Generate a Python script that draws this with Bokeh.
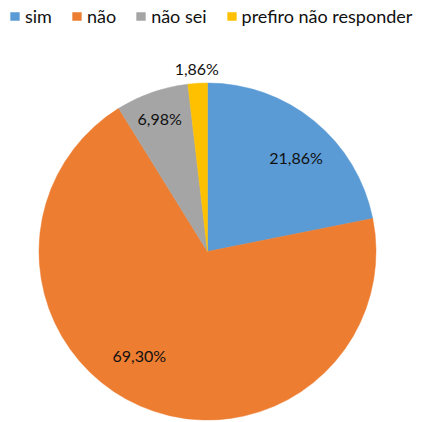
import math
from bokeh.plotting import figure
from bokeh.models import ColumnDataSource, Range1d, Legend, LegendItem
from bokeh.core.properties import value
from bokeh.embed import file_html
from bokeh.resources import INLINE

categories = ["sim", "não", "não sei", "prefiro não responder"]
shares = [21.86, 69.30, 6.98, 1.86]
colors = ["#5B9BD5", "#ED7D31", "#A5A5A5", "#FFC000"]

W, H = 421, 422
CX, CY, R = 207.0, 171.0, 168.5
FONT = "Lato"

total = sum(shares)
starts, ends, mids = [], [], []
acc = 0.0
for s in shares:
    a0 = math.pi / 2 - 2 * math.pi * acc / total
    acc += s
    a1 = math.pi / 2 - 2 * math.pi * acc / total
    starts.append(a0)
    ends.append(a1)
    mids.append((a0 + a1) / 2)

src = ColumnDataSource(dict(cat=categories, start=starts, end=ends, color=colors))

p = figure(width=W, height=H, output_backend="svg", toolbar_location=None,
           x_range=Range1d(0, W), y_range=Range1d(0, H), min_border=0)
p.axis.visible = False
p.grid.visible = False
p.outline_line_color = None
p.background_fill_color = "white"

r = p.wedge(x=CX, y=CY, radius=R, start_angle="start", end_angle="end",
            direction="clock", fill_color="color", line_color="color",
            line_width=0.5, source=src)

# label placement (style): radius factor and angular nudge per slice
lab_rf = [0.766, 0.738, 0.839, 1.088]
lab_da = [-0.069, -0.171, 0.009, 0.0]
lx, ly, lt = [], [], []
for m, f, d, s in zip(mids, lab_rf, lab_da, shares):
    a = m + d
    lx.append(CX + R * f * math.cos(a))
    ly.append(CY + R * f * math.sin(a))
    lt.append(f"{s:.2f}%".replace(".", ","))
p.text(x=lx, y=ly, text=lt, text_align="center", text_baseline="middle",
       text_font=value(FONT), text_font_size="16px", text_color="#111111")

items = [LegendItem(label=c, renderers=[r], index=i) for i, c in enumerate(categories)]
legend = Legend(items=items, orientation="horizontal", location=(9, H - 27),
                padding=0, margin=0, spacing=19, glyph_width=11, glyph_height=10,
                label_standoff=5, label_height=20, label_text_font=FONT,
                label_text_font_size="18px", label_text_color="#111111",
                border_line_alpha=0, background_fill_alpha=0)
p.add_layout(legend, "center")

open("out.html", "w").write(file_html(p, INLINE))
